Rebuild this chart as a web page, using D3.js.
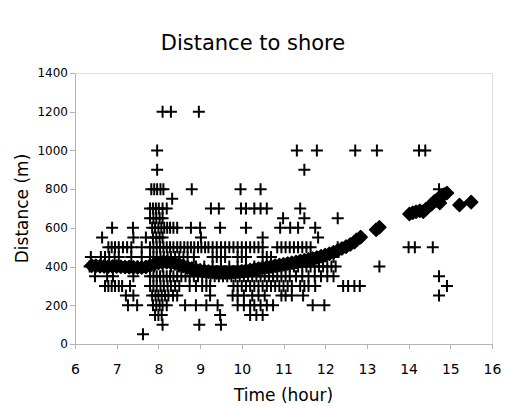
<!DOCTYPE html>
<html>
<head>
<meta charset="utf-8">
<script src="https://cdn.jsdelivr.net/npm/d3@7"></script>
<style>
	body { margin: 0; background: #fff; }
	text { font-family: "DejaVu Sans", sans-serif; fill: #000; }
	.axis path, .axis line { stroke: #b3b3b3; shape-rendering: crispEdges; }
</style>
</head>
<body>
<div id="chart"></div>
<script>
var chart_title = "Distance to shore";
var x_label = "Time (hour)";
var y_label = "Distance (m)";
var x_ticks = [6, 7, 8, 9, 10, 11, 12, 13, 14, 15, 16];
var y_ticks = [0, 200, 400, 600, 800, 1000, 1200, 1400];

// raw fixes, one row per distance: [metres, [hours]]
var raw_rows = [
	[1200, [8.1, 8.3, 8.97]],
	[1000, [7.97, 11.32, 11.8, 12.72, 13.24, 14.25, 14.4]],
	[900, [7.97, 11.5]],
	[800, [7.83, 7.9, 7.97, 8.05, 8.12, 8.8, 9.97, 10.45, 14.73]],
	[750, [8.33]],
	[700, [7.8, 7.87, 7.94, 8.01, 8.1, 8.2, 9.26, 9.45, 9.98, 10.1, 10.3, 10.45, 10.6, 11.4]],
	[650, [7.8, 7.88, 7.95, 8.03, 8.1, 10.99, 11.5, 12.3]],
	[600, [6.89, 7.39, 7.85, 7.92, 8.0, 8.07, 8.14, 8.21, 8.28, 8.36, 8.45, 8.78, 9.0, 9.48, 10.1, 10.92, 11.16, 11.35, 11.76]],
	[550, [6.65, 7.4, 7.7, 7.87, 7.95, 8.03, 8.1, 9.02, 10.5, 11.83]],
	[500, [6.8, 6.88, 6.96, 7.05, 7.15, 7.25, 7.35, 7.6, 7.8, 7.88, 7.96, 8.04, 8.12, 8.2, 8.28, 8.36, 8.45, 8.53, 8.62, 8.7,
		8.78, 8.86, 8.95, 9.03, 9.12, 9.2, 9.3, 9.4, 9.5, 9.6, 9.7, 9.8, 9.9, 10.0, 10.1, 10.2, 10.3, 10.4, 10.5,
		10.85, 10.95, 11.05, 11.15, 11.25, 11.35, 11.45, 11.55, 11.65, 12.3, 14.0, 14.15, 14.58]],
	[450, [6.38, 6.62, 6.72, 6.82, 6.95, 7.05, 7.35, 7.6, 7.8, 7.88, 7.96, 8.05, 8.13, 8.22, 8.3, 8.4, 8.5, 8.6, 8.7, 8.85,
		9.3, 9.4, 9.5, 9.6, 9.9, 10.0, 10.1, 10.5, 10.6, 10.7, 12.2]],
	[400, [6.35, 6.5, 6.7, 6.9, 7.1, 7.3, 7.5, 7.7, 7.9, 8.1, 8.3, 8.5, 8.7, 8.9, 9.1, 9.3, 9.5, 9.7, 9.9, 10.1, 10.3, 10.5,
		10.7, 10.85, 10.95, 11.05, 11.15, 11.25, 11.35, 11.45, 11.55, 11.65, 11.75, 11.85, 11.95, 12.05, 12.15, 12.25, 13.3]],
	[350, [6.48, 6.77, 6.91, 7.4, 7.8, 7.88, 7.96, 8.04, 8.12, 8.2, 8.28, 8.36, 8.45, 8.55, 8.65, 8.75, 8.85, 8.95, 9.05,
		9.15, 9.25, 9.35, 9.45, 9.55, 9.65, 9.75, 9.85, 9.95, 10.05, 10.15, 10.25, 10.35, 10.45, 10.55, 10.65, 10.75,
		10.85, 10.95, 11.05, 11.15, 11.3, 11.45, 11.6, 11.75, 11.9, 12.05, 12.2, 14.73]],
	[300, [6.72, 6.8, 6.88, 6.96, 7.05, 7.13, 7.32, 7.8, 7.88, 7.96, 8.05, 8.13, 8.22, 8.3, 8.4, 8.5, 8.75, 8.9, 9.05,
		9.15, 9.24, 9.8, 9.9, 10.0, 10.1, 10.2, 10.3, 10.4, 10.5, 10.6, 10.7, 10.8, 10.9, 11.0, 11.1, 11.2, 11.4, 11.5,
		11.6, 11.76, 12.43, 12.55, 12.7, 12.83, 14.92]],
	[250, [7.22, 7.4, 7.85, 7.93, 8.0, 8.08, 8.16, 8.24, 8.35, 8.45, 9.24, 9.78, 9.9, 10.05, 10.25, 10.4, 10.55, 10.95,
		11.05, 11.2, 11.47, 14.73]],
	[200, [7.27, 7.49, 7.87, 7.95, 8.03, 8.1, 8.2, 8.64, 8.9, 9.15, 9.42, 9.9, 10.05, 10.2, 10.3, 10.45, 10.6, 10.75,
		11.7, 11.98]],
	[150, [7.92, 8.0, 8.08, 9.48, 10.2, 10.35, 10.5]],
	[100, [8.1, 8.98, 9.5]],
	[50, [7.63]]
];

// smoothed track, drawn as diamonds
var smooth_hours = [6.4, 6.5, 6.6, 6.7, 6.8, 6.9, 7.0, 7.1, 7.2, 7.3, 7.4, 7.5, 7.6, 7.7, 7.8, 7.9, 8.0, 8.1, 8.2, 8.3,
	8.4, 8.5, 8.6, 8.7, 8.8, 8.9, 9.0, 9.1, 9.2, 9.3, 9.4, 9.5, 9.6, 9.7, 9.8, 9.9, 10.0, 10.1, 10.2, 10.3,
	10.4, 10.5, 10.6, 10.7, 10.8, 10.9, 11.0, 11.1, 11.2, 11.3, 11.4, 11.5, 11.6, 11.7, 11.8, 11.9, 12.0, 12.1,
	12.2, 12.3, 12.4, 12.5, 12.6, 12.7, 12.75, 12.85, 13.22, 13.3, 14.02, 14.1, 14.18, 14.27, 14.35, 14.42,
	14.55, 14.62, 14.68, 14.75, 14.75, 14.85, 14.92, 15.22, 15.5];
var smooth_meters = [405, 404, 402, 401, 400, 400, 400, 399, 398, 397, 396, 395, 395, 398, 405, 412, 418, 421, 422, 420,
	416, 410, 403, 396, 390, 385, 381, 377, 374, 372, 370, 369, 369, 370, 371, 373, 376, 379, 382, 386,
	390, 394, 398, 401, 405, 408, 412, 416, 420, 424, 428, 432, 437, 442, 447, 453, 459, 466,
	474, 483, 493, 503, 514, 526, 538, 552, 590, 603, 672, 678, 683, 688, 684, 697,
	722, 737, 742, 728, 760, 772, 780, 718, 733];

function distance_chart (margin, width, height, tag) {
	this.margin = margin;
	this.width = width - margin.left - margin.right;
	this.height = height - margin.top - margin.bottom;
	this.svg = d3.select(tag)
				.append("svg")
				.attr("width", width)
				.attr("height", height);
	this.panel = this.svg.append("g")
				.attr("transform", "translate(" + margin.left + ", " + margin.top + ")");
	this.x = d3.scaleLinear().domain([x_ticks[0], x_ticks[x_ticks.length - 1]]).range([0, this.width]);
	this.y = d3.scaleLinear().domain([y_ticks[0], y_ticks[y_ticks.length - 1]]).range([this.height, 0]);
}

distance_chart.prototype = {
	draw_frame : function() {
		var self = this;
		self.panel.append("rect")
			.attr("x", 0.5)
			.attr("y", 0.5)
			.attr("width", self.width)
			.attr("height", self.height)
			.attr("fill", "none")
			.attr("stroke", "#dddddd");

		var ya = self.panel.append("g")
			.attr("class", "axis")
			.call(d3.axisLeft(self.y).tickValues(y_ticks).tickFormat(d3.format("d"))
				.tickSize(5).tickSizeOuter(0).tickPadding(2));
		ya.selectAll("text").style("font-size", "12px");

		var xa = self.panel.append("g")
			.attr("class", "axis")
			.attr("transform", "translate(0, " + self.height + ")")
			.call(d3.axisBottom(self.x).tickValues(x_ticks).tickSize(5).tickSizeOuter(0));
		xa.selectAll("text")
			.style("font-size", "14px")
			.attr("y", 30)
			.attr("dy", 0);
	},
	draw_raw : function() {
		var self = this;
		var pts = [];
		raw_rows.forEach(function(row) {
			row[1].forEach(function(h) {
				pts.push({ h : h, m : row[0] });
			});
		});
		self.panel.append("g")
			.selectAll("path")
			.data(pts)
			.enter()
			.append("path")
			.attr("transform", function(d) {
				return "translate(" + self.x(d.h) + ", " + self.y(d.m) + ")";
			})
			.attr("d", "M-6,0H6M0,-6V6")
			.attr("stroke", "#000")
			.attr("stroke-width", 2)
			.attr("fill", "none");
	},
	draw_smooth : function() {
		var self = this;
		self.panel.append("g")
			.selectAll("path")
			.data(smooth_hours)
			.enter()
			.append("path")
			.attr("transform", function(d, i) {
				return "translate(" + self.x(d) + ", " + self.y(smooth_meters[i]) + ")";
			})
			.attr("d", "M0,-6.5L6.5,0L0,6.5L-6.5,0Z")
			.attr("fill", "#000")
			.attr("stroke", "#000")
			.attr("stroke-width", 1.5)
			.attr("stroke-linejoin", "round");
	},
	draw_labels : function() {
		var self = this;
		self.svg.append("text")
			.attr("x", 253)
			.attr("y", 50)
			.attr("text-anchor", "middle")
			.style("font-size", "21px")
			.text(chart_title);
		self.svg.append("text")
			.attr("x", self.margin.left + self.width / 2)
			.attr("y", 401)
			.attr("text-anchor", "middle")
			.style("font-size", "17px")
			.text(x_label);
		self.svg.append("text")
			.attr("transform", "translate(28, " + (self.margin.top + self.height / 2) + ") rotate(-90)")
			.attr("text-anchor", "middle")
			.style("font-size", "17px")
			.text(y_label);
	}
};

var chart = new distance_chart({ top : 73, right : 13, bottom : 62, left : 75 }, 505, 406, "#chart");
chart.draw_frame();
chart.draw_raw();
chart.draw_smooth();
chart.draw_labels();
</script>
</body>
</html>
